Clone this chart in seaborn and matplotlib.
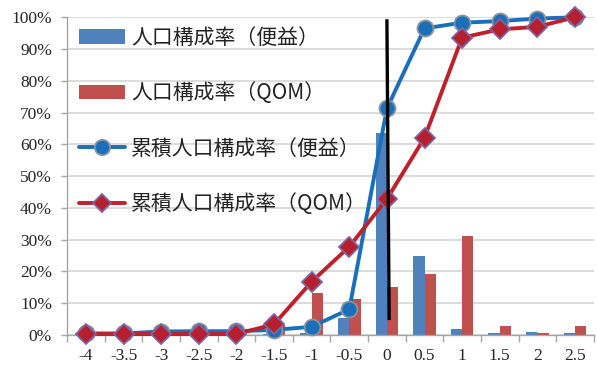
import numpy as np
import pandas as pd
import matplotlib
matplotlib.use("Agg")
import matplotlib.pyplot as plt
from matplotlib.patches import Patch
from matplotlib.lines import Line2D
from matplotlib.ticker import PercentFormatter, FixedLocator
import seaborn as sns

# class bins (benefit / QOM difference)
categories = ["-4", "-3.5", "-3", "-2.5", "-2", "-1.5", "-1", "-0.5",
              "0", "0.5", "1", "1.5", "2", "2.5"]

# population share per bin
share_benefit = [0.005, 0.0, 0.006, 0.0, 0.0, 0.002, 0.007, 0.052,
                 0.637, 0.249, 0.018, 0.006, 0.008, 0.005]
share_qom = [0.003, 0.0, 0.0, 0.0, 0.0, 0.031, 0.133, 0.112,
             0.150, 0.191, 0.312, 0.029, 0.005, 0.029]

# cumulative population share
cum_benefit = [0.005, 0.005, 0.011, 0.012, 0.012, 0.016, 0.026, 0.081,
               0.713, 0.965, 0.983, 0.988, 0.996, 1.000]
cum_qom = [0.003, 0.003, 0.003, 0.003, 0.003, 0.034, 0.168, 0.278,
           0.428, 0.621, 0.936, 0.962, 0.970, 1.000]

labels = ["人口構成率（便益）", "人口構成率（QOM）",
          "累積人口構成率（便益）", "累積人口構成率（QOM）"]

bar_blue = "#4F81BD"
bar_red = "#C0504D"
line_blue = "#1A6FBA"
line_red = "#C0202A"

sns.set_theme(style="white")
plt.rcParams["font.family"] = ["Noto Sans CJK JP", "DejaVu Sans"]

fig = plt.figure(figsize=(5.97, 3.71), dpi=100)
ax = fig.add_axes([0.1127, 0.097, 0.8818, 0.8564])

bars = pd.DataFrame({
    "bin": categories * 2,
    "share": share_benefit + share_qom,
    "series": [labels[0]] * len(categories) + [labels[1]] * len(categories),
})
sns.barplot(data=bars, x="bin", y="share", hue="series", order=categories,
            hue_order=labels[:2], palette=[bar_blue, bar_red], width=0.6,
            gap=0, saturation=1, legend=False, errorbar=None, ax=ax,
            linewidth=0, zorder=2)

sns.pointplot(x=categories, y=cum_qom, order=categories, color=line_red,
              markers="D", linestyles="-", errorbar=None, ax=ax,
              linewidth=2.8, markersize=10.5, markeredgecolor="#8064A2",
              markeredgewidth=1.3, markerfacecolor="#B51F2E", zorder=4)
sns.pointplot(x=categories, y=cum_benefit, order=categories, color=line_blue,
              markers="o", linestyles="-", errorbar=None, ax=ax,
              linewidth=2.8, markersize=11.5, markeredgecolor="#8A949B",
              markeredgewidth=1.3, zorder=3)
for ln in ax.lines:
    ln.set_clip_on(False)

# reference line at the zero bin
zero_pos = categories.index("0")
ax.plot([zero_pos, zero_pos + 0.06], [0.994, 0.047], color="black",
        lw=2.4, zorder=6, solid_capstyle="butt")

ax.set_xlim(-0.5, len(categories) - 0.5)
ax.set_ylim(0, 1.0)
ax.yaxis.set_major_locator(FixedLocator(np.arange(0, 1.01, 0.1)))
ax.yaxis.set_major_formatter(PercentFormatter(1.0, decimals=0))
ax.set_xlabel("")
ax.set_ylabel("")

ax.grid(axis="y", color="#D9D9D9", lw=1.3, zorder=0)
ax.set_axisbelow(True)
for s in ["top", "right"]:
    ax.spines[s].set_visible(False)
for s in ["left", "bottom"]:
    ax.spines[s].set_color("#A6A6A6")
    ax.spines[s].set_linewidth(1.0)

ax.xaxis.set_minor_locator(FixedLocator(np.arange(-0.5, len(categories), 1.0)))
ax.tick_params(axis="x", which="major", length=0, pad=9)
ax.tick_params(axis="x", which="minor", length=5, width=1.0, color="#A6A6A6",
               direction="out", bottom=True)
ax.tick_params(axis="y", length=4, width=1.0, color="#A6A6A6", left=True, pad=7)
for t in ax.get_xticklabels() + ax.get_yticklabels():
    t.set_fontfamily(["Liberation Serif"])
    t.set_fontsize(12.5)
    t.set_color("#262626")

handles = [
    Patch(facecolor=bar_blue, edgecolor="none"),
    Patch(facecolor=bar_red, edgecolor="none"),
    Line2D([], [], color=line_blue, lw=2.8, marker="o", markersize=11,
           markeredgecolor="#8A949B", markeredgewidth=1.3),
    Line2D([], [], color=line_red, lw=2.8, marker="D", markersize=9,
           markeredgecolor="#8064A2", markerfacecolor="#B51F2E",
           markeredgewidth=1.3),
]
leg = ax.legend(handles, labels, loc="upper left",
                bbox_to_anchor=(0.022, 0.97), frameon=False,
                prop={"size": 15}, handlelength=2.2, handletextpad=0.3,
                labelspacing=1.6, borderpad=0, borderaxespad=0)
for t in leg.get_texts():
    t.set_color("#222222")

fig.savefig("out.png", dpi=100)
